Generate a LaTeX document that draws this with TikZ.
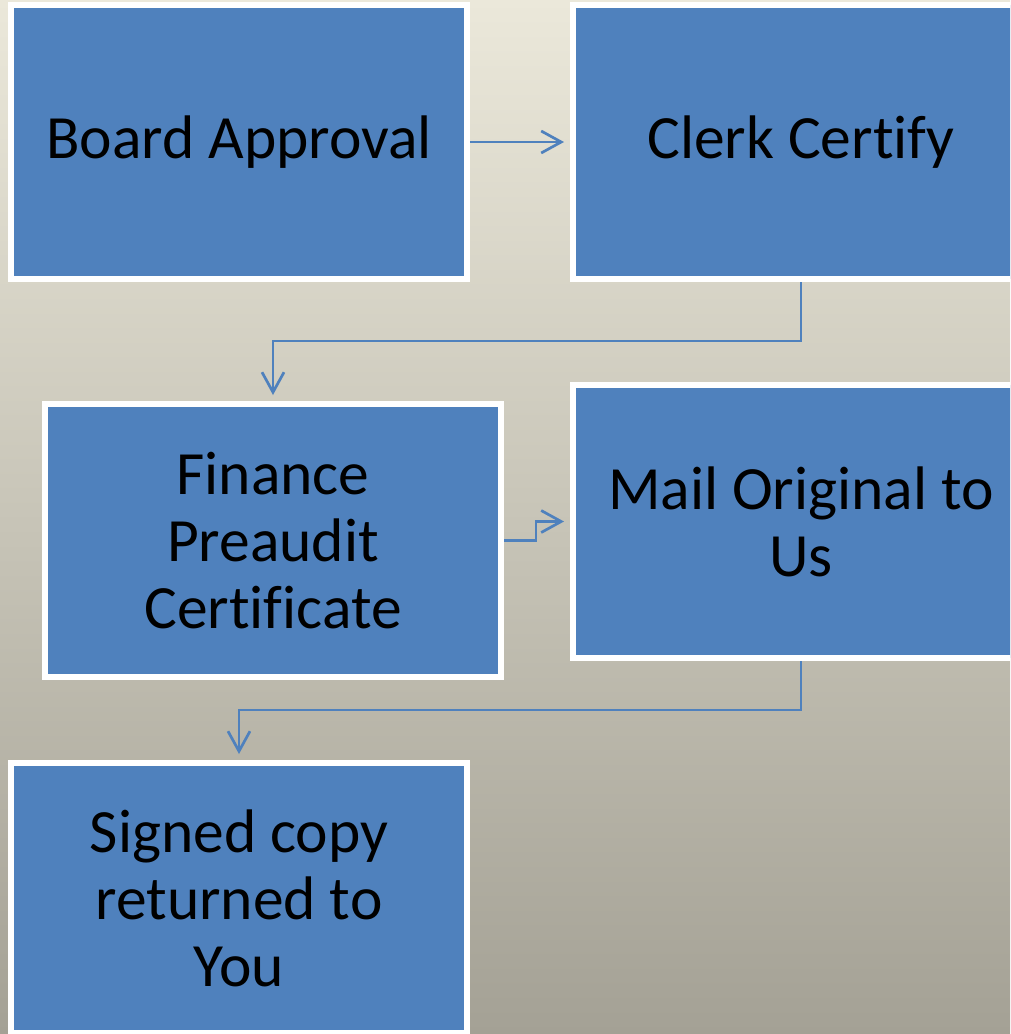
\documentclass[tikz,border=0pt]{standalone}
\usepackage{fontspec}
\setmainfont{Carlito}[Ligatures={NoCommon}]
\usetikzlibrary{arrows.meta}
\definecolor{boxblue}{HTML}{4F81BD}
\definecolor{bgtop}{HTML}{EBE8DA}
\definecolor{bgmid}{HTML}{CFCBBE}
\definecolor{bgbot}{HTML}{A4A195}
\tikzset{
  flowbox/.style={rectangle, fill=boxblue, draw=white, line width=6pt,
    minimum width=456pt, align=center, inner sep=0pt,
    font=\fontsize{61.5}{67}\selectfont, text=black},
  flowline/.style={draw=boxblue, line width=2.7pt, shorten >=6pt,
    -{Straight Barb[length=20pt,width=22pt,line width=2.7pt]}}
}
\begin{document}
\begin{tikzpicture}[x=1pt,y=-1pt]
\useasboundingbox (0,0) rectangle (1010,1034);
\clip (0,0) rectangle (1010,1034);
\shade[top color=bgtop, middle color=bgmid, bottom color=bgbot] (0,0) rectangle (1010,1034);
\node[flowbox, minimum height=274pt] (a) at (239,142) {Board Approval};
\node[flowbox, minimum height=274pt] (b) at (801,142) {Clerk Certify};
\node[flowbox, minimum height=273pt] (c) at (273,540.5) {Finance\\Preaudit\\Certificate};
\node[flowbox, minimum height=273pt] (d) at (801,521.5) {Mail Original to\\Us};
\node[flowbox, minimum height=270pt] (e) at (239,898) {Signed copy\\returned to\\You};
\draw[flowline] (a.east) -- (b.west);
\draw[flowline] (b.south) -- ++(0,59) -| (c.north);
\draw[flowline] (c.east) -- ++(32,0) |- (d.west);
\draw[flowline] (d.south) -- ++(0,49) -| (e.north);
\end{tikzpicture}
\end{document}
